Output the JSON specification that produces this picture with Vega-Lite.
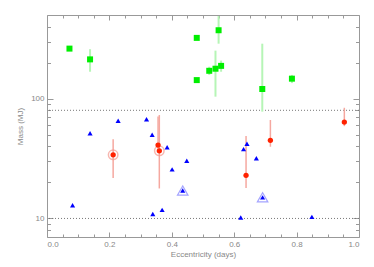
{
  "$schema": "https://vega.github.io/schema/vega-lite/v6.json",
  "width": 312,
  "height": 222,
  "autosize": {"type": "none"},
  "padding": {"left": 47, "top": 15, "right": 15, "bottom": 30},
  "background": "white",
  "config": {
    "view": {"stroke": null},
    "axis": {
      "labelFont": "Liberation Sans",
      "titleFont": "Liberation Sans",
      "labelFontSize": 8,
      "titleFontSize": 8,
      "titleFontWeight": "normal",
      "labelColor": "#888888",
      "titleColor": "#888888",
      "domainColor": "#999999",
      "tickColor": "#999999",
      "grid": false
    }
  },
  "datasets": {
    "pts": [
      {"e": 0.072, "m": 262, "lo": null, "hi": null, "t": "g", "ring": 0},
      {"e": 0.138, "m": 213, "lo": 168, "hi": 259, "t": "g", "ring": 0},
      {"e": 0.480, "m": 322, "lo": null, "hi": null, "t": "g", "ring": 0},
      {"e": 0.480, "m": 143, "lo": null, "hi": null, "t": "g", "ring": 0},
      {"e": 0.520, "m": 171, "lo": 158, "hi": 185, "t": "g", "ring": 0},
      {"e": 0.540, "m": 178, "lo": 104, "hi": 252, "t": "g", "ring": 0},
      {"e": 0.550, "m": 373, "lo": 288, "hi": 490, "t": "g", "ring": 0},
      {"e": 0.558, "m": 188, "lo": 168, "hi": 208, "t": "g", "ring": 0},
      {"e": 0.690, "m": 120.5, "lo": 78, "hi": 288, "t": "g", "ring": 0},
      {"e": 0.785, "m": 147, "lo": 135, "hi": 158, "t": "g", "ring": 0},
      {"e": 0.212, "m": 34, "lo": 21.8, "hi": 45.8, "t": "r", "ring": 1},
      {"e": 0.356, "m": 41, "lo": 38, "hi": 71, "t": "r", "ring": 0},
      {"e": 0.360, "m": 36.7, "lo": 17.8, "hi": 73, "t": "r", "ring": 1},
      {"e": 0.638, "m": 22.9, "lo": 18, "hi": 48.8, "t": "r", "ring": 0},
      {"e": 0.716, "m": 44.9, "lo": 39.7, "hi": 66.4, "t": "r", "ring": 0},
      {"e": 0.953, "m": 63.8, "lo": 59, "hi": 84, "t": "r", "ring": 0},
      {"e": 0.082, "m": 12.9, "lo": null, "hi": null, "t": "b", "ring": 0},
      {"e": 0.138, "m": 51.4, "lo": null, "hi": null, "t": "b", "ring": 0},
      {"e": 0.228, "m": 65.5, "lo": null, "hi": null, "t": "b", "ring": 0},
      {"e": 0.319, "m": 67.3, "lo": null, "hi": null, "t": "b", "ring": 0},
      {"e": 0.337, "m": 50, "lo": null, "hi": null, "t": "b", "ring": 0},
      {"e": 0.339, "m": 10.9, "lo": null, "hi": null, "t": "b", "ring": 0},
      {"e": 0.369, "m": 11.8, "lo": null, "hi": null, "t": "b", "ring": 0},
      {"e": 0.385, "m": 39.3, "lo": null, "hi": null, "t": "b", "ring": 0},
      {"e": 0.401, "m": 25.7, "lo": null, "hi": null, "t": "b", "ring": 0},
      {"e": 0.435, "m": 17.1, "lo": null, "hi": null, "t": "b", "ring": 1},
      {"e": 0.448, "m": 30.3, "lo": null, "hi": null, "t": "b", "ring": 0},
      {"e": 0.621, "m": 10.2, "lo": null, "hi": null, "t": "b", "ring": 0},
      {"e": 0.630, "m": 37.9, "lo": null, "hi": null, "t": "b", "ring": 0},
      {"e": 0.641, "m": 42, "lo": null, "hi": null, "t": "b", "ring": 0},
      {"e": 0.671, "m": 31.8, "lo": null, "hi": null, "t": "b", "ring": 0},
      {"e": 0.691, "m": 15, "lo": null, "hi": null, "t": "b", "ring": 1},
      {"e": 0.849, "m": 10.3, "lo": null, "hi": null, "t": "b", "ring": 0}
    ],
    "lines": [{"v": 80}, {"v": 10}]
  },
  "data": {"name": "pts"},
  "resolve": {"axis": {"x": "independent", "y": "independent"}},
  "layer": [
    {
      "data": {"name": "lines"},
      "mark": {"type": "rule", "color": "#777777", "strokeDash": [1, 2], "strokeWidth": 1},
      "encoding": {
        "y": {"field": "v", "type": "quantitative",
              "scale": {"type": "log", "domain": [7, 500], "nice": false},
              "axis": {"orient": "left", "values": [10, 100], "format": "d", "tickSize": -6, "labelPadding": 9, "title": "Mass (MJ)", "titlePadding": 6}}
      }
    },
    {
      "transform": [{"filter": "datum.t == 'g' && datum.lo != null"}],
      "mark": {"type": "rule", "color": "#b6f5b6", "strokeWidth": 2, "clip": true},
      "encoding": {
        "x": {"field": "e", "type": "quantitative", "scale": {"domain": [0, 1], "nice": false, "zero": false},
              "axis": {"orient": "bottom", "values": [0, 0.2, 0.4, 0.6, 0.8, 1.0], "format": ".1f", "tickSize": -5, "labelPadding": 8, "title": "Eccentricity (days)", "titlePadding": 2}},
        "y": {"field": "lo", "type": "quantitative", "scale": {"type": "log", "domain": [7, 500], "nice": false},
              "axis": {"orient": "left", "values": [8, 9, 20, 30, 40, 50, 60, 70, 80, 90, 200, 300, 400], "tickSize": -3.5, "labels": false, "domain": false, "title": null}},
        "y2": {"field": "hi"}
      }
    },
    {
      "transform": [{"filter": "datum.t == 'r' && datum.lo != null"}],
      "mark": {"type": "rule", "color": "#f5a8a0", "strokeWidth": 1.5, "clip": true},
      "encoding": {
        "x": {"field": "e", "type": "quantitative", "scale": {"domain": [0, 1], "nice": false, "zero": false},
              "axis": {"orient": "bottom", "values": [0.05, 0.1, 0.15, 0.25, 0.3, 0.35, 0.45, 0.5, 0.55, 0.65, 0.7, 0.75, 0.85, 0.9, 0.95], "tickSize": -3, "labels": false, "domain": false, "title": null}},
        "y": {"field": "lo", "type": "quantitative", "scale": {"type": "log", "domain": [7, 500], "nice": false},
              "axis": {"orient": "right", "values": [10, 100], "tickSize": -6, "labels": false, "title": null}},
        "y2": {"field": "hi"}
      }
    },
    {
      "transform": [{"filter": "datum.t == 'r' && datum.ring == 1"}],
      "mark": {"type": "point", "shape": "circle", "filled": false, "stroke": "#f59a90", "strokeWidth": 1.5, "size": 90},
      "encoding": {
        "x": {"field": "e", "type": "quantitative", "scale": {"domain": [0, 1], "nice": false, "zero": false},
              "axis": {"orient": "top", "values": [0, 0.2, 0.4, 0.6, 0.8, 1.0], "tickSize": -5, "labels": false, "title": null}},
        "y": {"field": "m", "type": "quantitative", "scale": {"type": "log", "domain": [7, 500], "nice": false},
              "axis": {"orient": "right", "values": [8, 9, 20, 30, 40, 50, 60, 70, 80, 90, 200, 300, 400], "tickSize": -3.5, "labels": false, "domain": false, "title": null}}
      }
    },
    {
      "transform": [{"filter": "datum.t == 'b' && datum.ring == 1"}],
      "mark": {"type": "point", "shape": "triangle-up", "filled": false, "stroke": "#7f7fff", "strokeWidth": 1.2, "size": 110},
      "encoding": {
        "x": {"field": "e", "type": "quantitative", "scale": {"domain": [0, 1], "nice": false, "zero": false},
              "axis": {"orient": "top", "values": [0.05, 0.1, 0.15, 0.25, 0.3, 0.35, 0.45, 0.5, 0.55, 0.65, 0.7, 0.75, 0.85, 0.9, 0.95], "tickSize": -3, "labels": false, "domain": false, "title": null}},
        "y": {"field": "m", "type": "quantitative", "scale": {"type": "log", "domain": [7, 500], "nice": false}, "axis": null}
      }
    },
    {
      "transform": [{"filter": "datum.t == 'g'"}],
      "mark": {"type": "point", "shape": "square", "filled": true, "color": "#00ee00", "opacity": 1, "size": 36},
      "encoding": {
        "x": {"field": "e", "type": "quantitative", "scale": {"domain": [0, 1], "nice": false, "zero": false}, "axis": null},
        "y": {"field": "m", "type": "quantitative", "scale": {"type": "log", "domain": [7, 500], "nice": false}, "axis": null}
      }
    },
    {
      "transform": [{"filter": "datum.t == 'r'"}],
      "mark": {"type": "point", "shape": "circle", "filled": true, "color": "#ff2200", "opacity": 1, "size": 28},
      "encoding": {
        "x": {"field": "e", "type": "quantitative", "scale": {"domain": [0, 1], "nice": false, "zero": false}, "axis": null},
        "y": {"field": "m", "type": "quantitative", "scale": {"type": "log", "domain": [7, 500], "nice": false}, "axis": null}
      }
    },
    {
      "transform": [{"filter": "datum.t == 'b'"}],
      "mark": {"type": "point", "shape": "triangle-up", "filled": true, "color": "#0000ff", "opacity": 1, "size": 26},
      "encoding": {
        "x": {"field": "e", "type": "quantitative", "scale": {"domain": [0, 1], "nice": false, "zero": false}, "axis": null},
        "y": {"field": "m", "type": "quantitative", "scale": {"type": "log", "domain": [7, 500], "nice": false}, "axis": null}
      }
    }
  ]
}
